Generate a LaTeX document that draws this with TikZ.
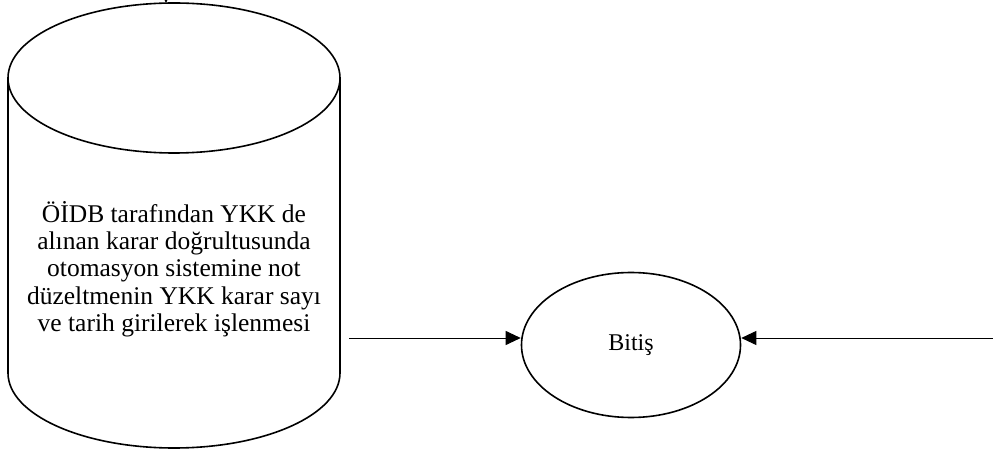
\documentclass[tikz,border=0pt]{standalone}
\usepackage{fontspec}
\setmainfont{Liberation Serif}
\usetikzlibrary{shapes.geometric,arrows.meta}
\begin{document}
\begin{tikzpicture}[x=1pt,y=1pt,
  shapeline/.style={line width=1.6pt},
  conn/.style={line width=0.9pt,-{Triangle[length=15pt,width=14pt]}},
  endnode/.style={ellipse,draw,shapeline,minimum width=219pt,minimum height=145pt,inner sep=0pt,font=\fontsize{24}{27}\selectfont}]
\useasboundingbox (0,0) rectangle (993,458);
% cylinder
\draw[shapeline] (174,380) ellipse [x radius=166, y radius=75];
\draw[shapeline] (8,380) -- (8,85) arc[start angle=180,end angle=360,x radius=166,y radius=75] -- (340,380);
\node[align=center,font=\fontsize{25.5}{27.3}\selectfont] (proc) at (174,189) {ÖİDB tarafından YKK de\\alınan karar doğrultusunda\\otomasyon sistemine not\\düzeltmenin YKK karar sayı\\ve tarih girilerek işlenmesi};
\coordinate (cyltop) at (174,455);
\coordinate (topin) at (166,470);
\draw[conn] (topin) -- (topin |- cyltop);
\node[endnode] (bitis) at (631,113) {Bitiş};
\coordinate (a1) at (349,120);
\coordinate (a2) at (993,120);
\draw[conn] (a1) -- (a1 -| bitis.west);
\draw[conn] (a2) -- (a2 -| bitis.east);
\end{tikzpicture}
\end{document}
